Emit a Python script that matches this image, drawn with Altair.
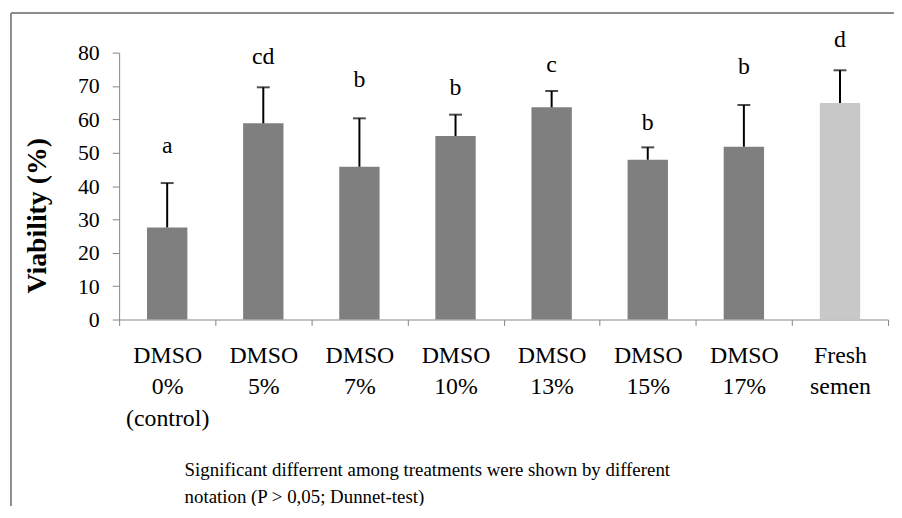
import altair as alt
import pandas as pd

# ---- data ----
categories = ["DMSO|0%|(control)", "DMSO|5%", "DMSO|7%", "DMSO|10%",
              "DMSO|13%", "DMSO|15%", "DMSO|17%", "Fresh|semen"]
viability = [27.6, 58.8, 45.8, 55.0, 63.6, 47.9, 51.8, 64.9]
sd = [13.3, 10.8, 14.5, 6.4, 4.9, 3.7, 12.5, 9.8]
notation = ["a", "cd", "b", "b", "c", "b", "b", "d"]
notation_y = [52.1, 78.6, 71.9, 69.4, 76.4, 59.0, 75.7, 83.8]
group = ["DMSO", "DMSO", "DMSO", "DMSO", "DMSO", "DMSO", "DMSO", "Fresh"]
y_ticks = [0, 10, 20, 30, 40, 50, 60, 70, 80]
footnote = ["Significant differrent among treatments were shown by different",
            "notation (P > 0,05; Dunnet-test)"]

df = pd.DataFrame({
    "category": categories,
    "viability": viability,
    "sd": sd,
    "notation": notation,
    "notation_y": notation_y,
    "group": group,
})
df["upper"] = df["viability"] + df["sd"]

FONT = "Liberation Serif"
AXIS_GREY = "#868686"

x_axis = alt.Axis(
    title=None, labelExpr="split(datum.label, '|')", labelAngle=0,
    tickBand="extent", ticks=True, tickSize=6, tickColor=AXIS_GREY,
    domainColor=AXIS_GREY, labelFont=FONT, labelFontSize=24,
    labelColor="black", labelLineHeight=32, labelPadding=18,
    labelBaseline="top", labelOverlap=False,
)
y_axis = alt.Axis(
    values=y_ticks, grid=False, title="Viability (%)",
    domainColor=AXIS_GREY, tickColor=AXIS_GREY, tickSize=7,
    labelFont=FONT, labelFontSize=22, labelColor="black", labelPadding=13,
    labelOverlap=False,
    titleFont=FONT, titleFontSize=28, titleFontWeight="bold",
    titleColor="black", titleX=-82, titleY=164, titleAngle=270,
    titleBaseline="middle", titleAlign="center",
)
y_scale = alt.Scale(domain=[0, 80], nice=False)
x_scale = alt.Scale(paddingInner=0, paddingOuter=0)


def xenc():
    return alt.X("category:N", sort=categories, scale=x_scale, axis=x_axis)


def yenc(field):
    return alt.Y(field, scale=y_scale, axis=y_axis)


bars = alt.Chart(df).mark_bar(width=alt.RelativeBandSize(0.42)).encode(
    x=xenc(),
    y=yenc("viability:Q"),
    color=alt.Color("group:N", legend=None,
                    scale=alt.Scale(domain=["DMSO", "Fresh"],
                                    range=["#7f7f7f", "#c8c8c8"])),
)

err = alt.Chart(df).mark_rule(color="black", strokeWidth=2).encode(
    x=xenc(),
    y=yenc("viability:Q"),
    y2="upper:Q",
)

cap = alt.Chart(df).mark_tick(color="black", thickness=2, size=13).encode(
    x=xenc(),
    y=yenc("upper:Q"),
)

letters = alt.Chart(df).mark_text(font=FONT, fontSize=24, color="black",
                                  baseline="middle").encode(
    x=xenc(),
    y=yenc("notation_y:Q"),
    text="notation:N",
)

note = alt.Chart(alt.Data(values=[{}])).mark_text(
    text=footnote, font=FONT, fontSize=19, color="black", align="left",
    baseline="alphabetic", lineHeight=27,
).encode(x=alt.value(66), y=alt.value(427))

# outer frame of the figure (top and left edges only; the rest is cut off)
frame_top = alt.Chart(alt.Data(values=[{}])).mark_rule(
    color="#8c8c8c", strokeWidth=2,
).encode(x=alt.value(-109), x2=alt.value(800), y=alt.value(-40))
frame_left = alt.Chart(alt.Data(values=[{}])).mark_rule(
    color="#8c8c8c", strokeWidth=2,
).encode(x=alt.value(-109), y=alt.value(-40), y2=alt.value(700))

chart = alt.layer(frame_top, frame_left, bars, err, cap, letters, note).properties(
    width=775, height=269,
    autosize=alt.AutoSizeParams(type="none"),
    padding={"left": 112, "top": 43, "right": 6, "bottom": 186},
    background="white",
).configure(font=FONT).configure_axis(
    labelFont=FONT, titleFont=FONT,
).configure_view(strokeWidth=0)

chart.save("out.html", embed_options={"renderer": "svg", "actions": False})
